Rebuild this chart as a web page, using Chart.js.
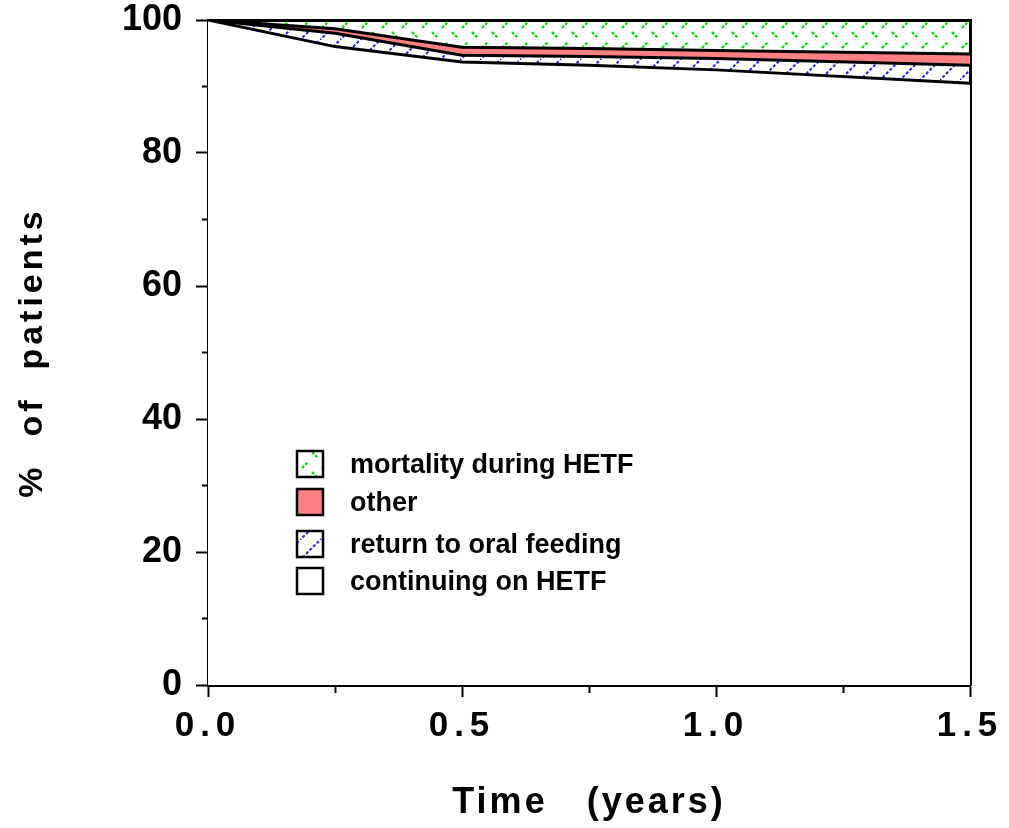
<!DOCTYPE html>
<html><head><meta charset="utf-8">
<script src="https://cdn.jsdelivr.net/npm/chart.js@4.4.1/dist/chart.umd.min.js"></script>
<style>html,body{margin:0;padding:0;background:#fff;} #c{display:block;}</style>
</head><body>
<canvas id="c" width="1009" height="828"></canvas>
<script>
// ---- data ----
const times       = [0, 0.25, 0.5, 0.75, 1.0, 1.5];          // years
const continuing  = [100, 96.0, 93.7, 93.2, 92.5, 90.5];      // continuing on HETF
const returnOral  = [0, 2.0, 1.0, 1.3, 1.7, 2.7];             // return to oral feeding
const other       = [0, 0.7, 1.2, 1.2, 1.2, 1.7];             // other
const mortality   = [0, 1.3, 4.1, 4.3, 4.6, 5.1];             // mortality during HETF
const seriesNames = ['continuing on HETF', 'return to oral feeding', 'other', 'mortality during HETF'];
const xMajorTicks = [0, 0.5, 1.0, 1.5];
const xTickLabels = ['0.0', '0.5', '1.0', '1.5'];
const yMajorTicks = [0, 20, 40, 60, 80, 100];
const yTickLabels = ['0', '20', '40', '60', '80', '100'];
const xTitle = 'Time   (years)';
const yTitle = '%  of  patients';

const FONT = "'Liberation Sans', Arial, Helvetica, sans-serif";
const canvas = document.getElementById('c');
const ctx = canvas.getContext('2d');

function bluePattern() {
  const c = document.createElement('canvas'); c.width = 20; c.height = 20;
  const g = c.getContext('2d');
  g.strokeStyle = '#2020ff'; g.lineWidth = 2; g.setLineDash([3, 2]);
  g.beginPath(); g.moveTo(-1, 21); g.lineTo(21, -1); g.stroke();
  return ctx.createPattern(c, 'repeat');
}
function greenPattern() {
  const c = document.createElement('canvas'); c.width = 20; c.height = 20;
  const g = c.getContext('2d');
  g.strokeStyle = '#00e000'; g.lineWidth = 2.2; g.setLineDash([3, 1.5]);
  g.beginPath(); g.moveTo(2, 8); g.lineTo(8, 2); g.stroke();
  g.beginPath(); g.moveTo(12, 12); g.lineTo(18, 18); g.stroke();
  return ctx.createPattern(c, 'repeat');
}

const mk = arr => times.map((t, i) => ({ x: t, y: arr[i] }));
const fills = ['#ffffff', bluePattern(), '#ff8080', greenPattern()];
const values = [continuing, returnOral, other, mortality];
const datasets = values.map((arr, i) => ({
  label: seriesNames[i],
  data: mk(arr),
  backgroundColor: fills[i],
  fill: i === 0 ? 'origin' : '-1',
  borderColor: '#000', borderWidth: 3, pointRadius: 0, tension: 0,
  borderJoinStyle: 'miter'
}));

const near = (v, list) => list.findIndex(t => Math.abs(t - v) < 1e-6);

const spacingPlugin = {
  id: 'spacing',
  beforeDraw(chart) {
    const cfg = { x: { labels: '6px', title: '3px' }, y: { labels: '0px', title: '4px' } };
    for (const id in cfg) {
      const s = chart.scales[id];
      if (!s || s._spWrapped) continue;
      s._spWrapped = true;
      const dl = s.drawLabels.bind(s), dt = s.drawTitle.bind(s);
      s.drawLabels = function (a) { const c = this.ctx; const o = c.letterSpacing; c.letterSpacing = cfg[id].labels; dl(a); c.letterSpacing = o; };
      s.drawTitle = function (a) { const c = this.ctx; const o = c.letterSpacing; c.letterSpacing = cfg[id].title; dt(a); c.letterSpacing = o; };
    }
  }
};

const legendPlugin = {
  id: 'boxLegend',
  afterDraw(chart, args, opts) {
    const c = chart.ctx; const ds = chart.data.datasets;
    [3, 2, 1, 0].forEach((di, k) => {
      const d = ds[di]; const cy = opts.rows[k];
      c.save();
      c.fillStyle = d.backgroundColor;
      c.fillRect(opts.x, cy - opts.box / 2, opts.box, opts.box);
      c.lineWidth = 2.5; c.strokeStyle = '#000';
      c.strokeRect(opts.x, cy - opts.box / 2, opts.box, opts.box);
      c.fillStyle = '#000'; c.font = 'bold 27px ' + FONT;
      c.textBaseline = 'middle'; c.textAlign = 'left';
      c.fillText(d.label, opts.textX, cy + 2);
      c.restore();
    });
  }
};

new Chart(ctx, {
  type: 'line',
  data: { datasets },
  plugins: [spacingPlugin, legendPlugin],
  options: {
    responsive: false, animation: false, devicePixelRatio: 1,
    layout: { padding: { left: 0, right: 39, top: 20, bottom: 0 } },
    plugins: {
      legend: { display: false }, tooltip: { enabled: false },
      filler: { propagate: false },
      boxLegend: { x: 297, box: 26, textX: 350, rows: [464, 502, 544, 581] }
    },
    scales: {
      x: {
        type: 'linear', position: 'bottom', min: 0, max: 1.5,
        afterFit: s => { s.height = 143; s.paddingLeft = 0; s.paddingRight = 0; },
        ticks: {
          stepSize: 0.25, autoSkip: false, maxRotation: 0, minRotation: 0, color: '#000',
          font: { family: FONT, size: 35, weight: 'bold', lineHeight: 1 }, padding: 12,
          callback: v => { const k = near(v, xMajorTicks); return k >= 0 ? xTickLabels[k] : ''; }
        },
        grid: {
          drawOnChartArea: false, drawTicks: true, tickLength: 12, tickWidth: 2, tickColor: '#000',
          tickBorderDash: c => (c.tick && near(c.tick.value, xMajorTicks) < 0) ? [6, 100] : []
        },
        border: { display: true, color: '#000', width: 3 },
        title: { display: true, text: xTitle, color: '#000',
          font: { family: FONT, size: 36, weight: 'bold', lineHeight: 1 }, padding: { top: 0, bottom: 7 } }
      },
      y: {
        type: 'linear', position: 'left', stacked: true, min: 0, max: 100,
        afterFit: s => { s.width = 208; s.paddingTop = 0; s.paddingBottom = 0; },
        ticks: {
          stepSize: 10, autoSkip: false, color: '#000',
          font: { family: FONT, size: 36, weight: 'bold', lineHeight: 1 }, padding: 14,
          callback: v => { const k = near(v, yMajorTicks); return k >= 0 ? yTickLabels[k] : ''; }
        },
        grid: {
          drawOnChartArea: false, drawTicks: true, tickLength: 12, tickWidth: 2, tickColor: '#000',
          tickBorderDash: c => (c.tick && near(c.tick.value, yMajorTicks) < 0) ? [6, 6] : [],
          tickBorderDashOffset: c => (c.tick && near(c.tick.value, yMajorTicks) < 0) ? 6 : 0
        },
        border: { display: true, color: '#000', width: 3 },
        title: { display: true, text: yTitle, color: '#000',
          font: { family: FONT, size: 34, weight: 'bold', lineHeight: 1 }, padding: { top: 16, bottom: 0 } }
      },
      x2: {
        type: 'linear', position: 'top', min: 0, max: 1.5,
        afterFit: s => { s.height = 0; s.paddingLeft = 0; s.paddingRight = 0; },
        ticks: { display: false }, grid: { drawOnChartArea: false, drawTicks: false },
        border: { display: true, color: '#000', width: 3 }
      },
      y2: {
        type: 'linear', position: 'right', min: 0, max: 100,
        afterFit: s => { s.width = 0; s.paddingTop = 0; s.paddingBottom = 0; },
        ticks: { display: false }, grid: { drawOnChartArea: false, drawTicks: false },
        border: { display: true, color: '#000', width: 3 }
      }
    }
  }
});
</script>
</body></html>
